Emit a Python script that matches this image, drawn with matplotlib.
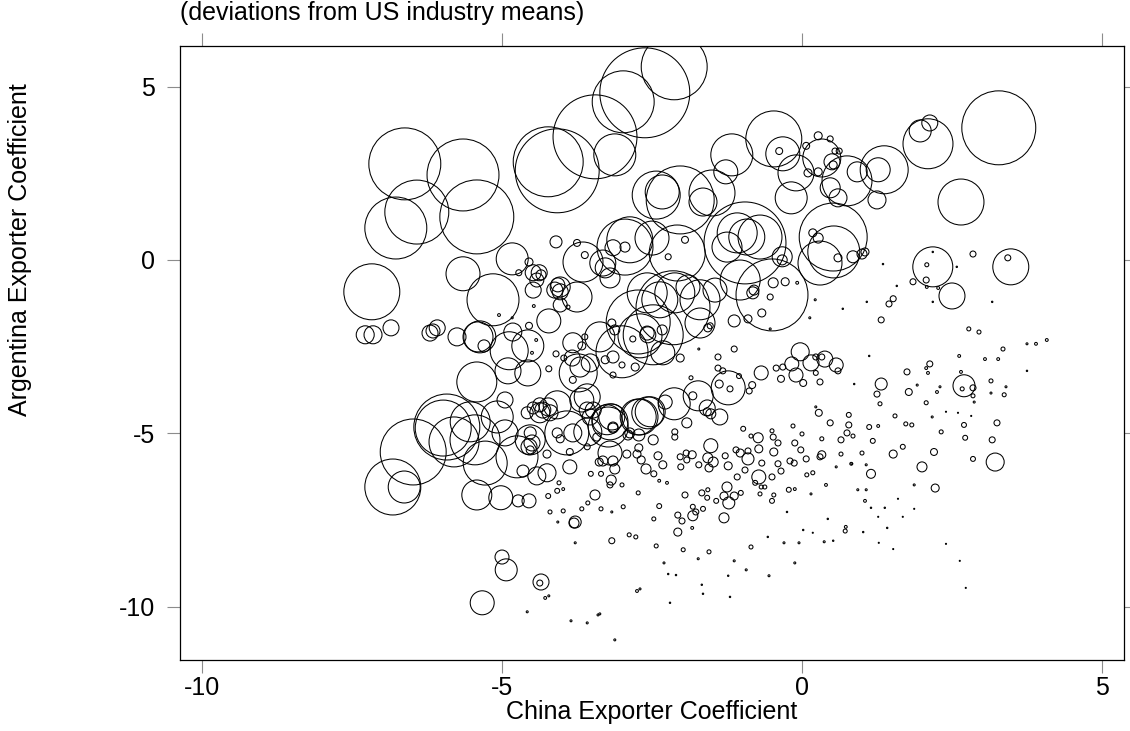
import numpy as np
import matplotlib
matplotlib.use('Agg')
import matplotlib.pyplot as plt

plt.rcParams['font.family'] = ['Liberation Sans', 'DejaVu Sans']
plt.rcParams['axes.unicode_minus'] = False

# x = China exporter coefficient, y = Argentina exporter coefficient, w = industry weight
# big circles, upper left
x1 = [-6.62, -5.65, -6.42, -6.77, -5.42, -4.23, -4.08, -3.45, -3.12, -2.98, -2.62, -2.13]
y1 = [2.77, 2.45, 1.38, 0.92, 1.24, 2.83, 2.57, 3.55, 3.03, 4.56, 4.82, 5.57]
w1 = [1296, 1296, 1024, 961, 1369, 1225, 1764, 1764, 441, 961, 2025, 1089]

# upper middle / right
x2 = [3.28, 2.65, 2.1, 1.97, 2.13, 1.37, 1.27, 0.92, 1.25, 0.75,
      0.6, 0.5, 0.33, 0.27, 0.47, 0.55, 0.62, 0.07, 0.27, 0.1,
      0.52, -0.47, -0.32, -0.38, -0.1, -0.18, -1.17, -1.27, -1.5, -1.65,
      -2.03, -2.43, -2.33]
y2 = [3.81, 1.67, 3.35, 3.72, 3.95, 2.6, 2.6, 2.54, 1.73, 2.28,
      1.79, 2.83, 2.94, 3.58, 3.49, 3.14, 3.14, 3.29, 2.54, 2.51,
      2.74, 3.49, 3.06, 3.14, 2.51, 1.79, 3.03, 2.54, 1.93, 1.67,
      1.73, 1.87, 1.96]
w2 = [1369, 529, 625, 121, 64, 576, 144, 100, 81, 625,
      81, 64, 361, 16, 9, 9, 9, 12, 16, 16,
      16, 784, 289, 12, 324, 256, 441, 144, 529, 196,
      1156, 576, 289]

x3 = [2.18, 2.5, 3.48, 3.43, 2.08, 2.85, 1.85, 2.07, 2.08, 2.27, 2.58, 2.18, 3.17, 2.18, 1.35]
y3 = [-0.2, -1.04, -0.2, 0.06, -0.14, 0.17, -0.63, -0.58, -0.78, -0.81, -0.2, -1.21, -1.21, 0.23, -0.12]
w3 = [400, 169, 324, 9, 4, 9, 9, 9, 2, 2, 0.5, 0.5, 0.5, 0.5, 0.5]

# upper middle cluster
x4 = [0.52, 0.53, 0.3, 0.6, 0.85, 1.0, 1.05, 0.18, 0.27, 0.47,
      -0.95, -0.7, -0.92, -1.08, -0.33, -0.33, -1.25, -2.95, -2.87, -2.5,
      -2.08, -1.95, -2.23, -3.15, -2.95, -0.5, -1.03, -0.48, -0.82, -0.8,
      -0.53, -0.28, -0.08, -1.13, -0.9, -0.67, 0.22, 0.13, -0.53, -1.72,
      0.68, 1.08, 1.58, 1.52, 1.45, 1.32, -3.2]
y4 = [0.66, 0.23, -0.09, 0.06, 0.09, 0.17, 0.23, 0.78, 0.63, 2.08,
      0.49, 0.66, 0.66, 0.78, 0.09, 0.0, 0.37, 0.37, 0.58, 0.63,
      0.2, 0.58, 0.09, 0.35, 0.37, -1.01, -0.58, -0.66, -0.95, -0.87,
      -1.07, -0.63, -0.66, -1.76, -1.7, -1.53, -1.15, -1.67, -1.99, -2.57,
      -1.41, -1.21, -0.75, -1.12, -1.27, -1.73, -0.52]
w4 = [1156, 676, 484, 16, 36, 25, 16, 16, 25, 100,
      1681, 484, 324, 400, 100, 25, 225, 784, 529, 289,
      784, 12, 9, 64, 25, 1296, 400, 25, 36, 25,
      9, 16, 2, 36, 16, 16, 1, 1, 1, 1,
      0.5, 0.5, 0.5, 9, 9, 9, 100]

# dense cluster left of centre
x5 = [-2.73, -2.48, -3.0, -2.57, -2.58, -2.12, -1.9, -2.15, -1.7, -2.32,
      -2.03, -3.15, -3.28, -3.0, -2.78, -3.15, -3.17, -2.82, -2.33, -1.57,
      -1.53, -2.58, -2.7, -3.37, -3.12, -2.37, -1.7, -1.45]
y5 = [-1.79, -2.16, -2.65, -2.16, -2.11, -0.95, -0.78, -1.38, -1.82, -2.68,
      -2.83, -2.8, -2.88, -3.03, -3.09, -3.32, -1.82, -2.28, -2.02, -1.96,
      -1.9, -0.95, -2.19, -2.22, -2.02, -1.15, -1.15, -0.87]
w5 = [1024, 900, 676, 64, 49, 400, 144, 1369, 225, 144,
      16, 36, 16, 9, 16, 9, 16, 9, 25, 16,
      9, 400, 484, 225, 25, 324, 400, 144]

x6 = [-4.83, -4.1, -3.75, -3.62, -3.65, -3.32, -3.28, -4.55, -4.72, -4.48,
      -4.38, -4.35, -4.42, -4.48, -4.12, -4.07, -4.03, -3.75, -4.03, -3.9,
      -4.47, -4.22, -4.55, -4.82, -4.88, -4.57, -4.43, -4.5, -4.57, -4.9,
      -5.42, -3.62, -3.67, -3.83, -3.82, -3.7, -3.73, -3.53, -4.1, -3.97,
      -4.22, -3.82, -5.05, -4.83, -4.03]
y6 = [0.03, 0.52, 0.49, 0.14, -0.06, -0.09, -0.23, -0.06, -0.37, -0.37,
      -0.37, -0.43, -0.58, -0.87, -0.87, -0.72, -0.92, -1.07, -1.3, -1.36,
      -1.33, -1.76, -1.9, -2.08, -2.62, -2.48, -2.31, -2.68, -3.26, -3.2,
      -3.52, -2.22, -2.48, -2.83, -2.39, -3.09, -3.26, -2.97, -2.71, -2.83,
      -3.14, -3.46, -1.59, -1.67, -0.78]
w6 = [256, 36, 12, 12, 400, 169, 100, 16, 9, 64,
      64, 25, 49, 64, 64, 49, 64, 225, 49, 4,
      2, 144, 12, 81, 361, 256, 2, 2, 169, 169,
      400, 9, 16, 64, 100, 100, 361, 81, 9, 9,
      9, 12, 2, 1, 100]

# far left group
x7 = [-7.17, -7.28, -7.15, -6.85, -6.2, -6.08, -6.15, -5.75, -5.65, -5.15, -5.37, -5.4, -5.3, -4.95]
y7 = [-0.92, -2.16, -2.16, -1.96, -2.11, -1.96, -2.05, -2.22, -0.4, -1.15, -2.22, -2.22, -2.48, -4.04]
w7 = [784, 81, 81, 64, 64, 64, 49, 81, 289, 676, 256, 225, 36, 64]

# lower left cluster
x8 = [-6.48, -6.82, -6.63, -5.92, -5.98, -5.8, -5.53, -5.45, -5.28, -5.08,
      -4.95, -4.75, -4.53, -5.42, -5.02, -4.73, -4.55, -4.42, -4.65, -4.55,
      -4.53, -4.25, -3.87, -3.92, -3.82, -4.08, -4.03, -3.42, -3.58, -3.87,
      -4.5, -4.53, -4.58, -4.48, -4.37, -4.32, -4.23, -4.2, -4.37, -4.08,
      -3.67, -3.48, -3.25, -3.15, -3.57, -3.38, -3.15, -3.18, -3.23, -3.2,
      -3.53, -3.2, -2.73, -2.53, -2.9, -3.58, -3.58, -4.25, -3.45, -3.78,
      -3.8]
y8 = [-5.54, -6.55, -6.55, -4.82, -4.85, -5.25, -4.67, -5.19, -5.86, -4.53,
      -4.99, -5.68, -5.19, -6.78, -6.86, -6.95, -6.95, -6.23, -6.09, -5.39,
      -4.99, -5.6, -5.97, -4.99, -4.99, -4.99, -5.16, -5.11, -5.39, -5.54,
      -5.28, -5.48, -4.41, -4.27, -4.18, -4.33, -4.24, -4.41, -4.41, -4.18,
      -4.04, -4.33, -4.61, -4.85, -4.96, -5.83, -5.8, -6.35, -4.82, -5.57,
      -4.53, -4.67, -4.53, -4.38, -5.05, -3.95, -4.33, -6.14, -6.78, -7.56,
      -7.59]
w8 = [1089, 784, 256, 1089, 784, 625, 400, 625, 484, 256,
      169, 441, 225, 225, 144, 36, 49, 81, 36, 64,
      36, 16, 49, 484, 81, 25, 16, 16, 9, 12,
      64, 16, 36, 36, 49, 64, 81, 64, 100, 196,
      144, 64, 225, 25, 196, 16, 25, 25, 400, 144,
      64, 324, 324, 225, 25, 169, 64, 81, 25, 36,
      25]

x9 = [-5.0, -4.93, -5.33, -4.35, -4.37, -4.28, -4.22, -4.58, -3.85, -3.58,
      -3.4, -3.37, -3.12, -2.75, -2.7, -3.78, -3.17, -2.88, -2.77, -2.43,
      -2.47, -4.07, -4.2, -3.98, -4.23, -4.08, -3.98, -4.05, -3.67, -3.57,
      -3.35, -3.17, -2.98, -3.2, -3.0, -2.73, -3.52, -3.35]
y9 = [-8.57, -8.94, -9.89, -9.29, -9.32, -9.75, -9.69, -10.15, -10.41, -10.47,
      -10.24, -10.21, -10.96, -9.55, -9.49, -8.16, -8.1, -7.93, -7.99, -8.25,
      -7.47, -7.56, -7.27, -7.24, -6.81, -6.66, -6.61, -6.43, -7.18, -7.01,
      -7.18, -7.27, -7.12, -6.49, -6.49, -6.72, -6.17, -6.17]
w9 = [49, 121, 144, 64, 9, 2, 1, 1, 1, 1,
      1, 1, 1, 2, 1, 1, 9, 4, 4, 4,
      4, 1, 4, 4, 6, 6, 2, 4, 4, 4,
      4, 1, 4, 9, 4, 4, 6, 6]

# middle band
x10 = [-0.03, -0.17, 0.15, 0.38, 0.57, 0.6, 0.23, 0.33, -0.1, 0.02,
       0.3, 0.23, -0.35, -0.43, -0.32, -0.68, -0.83, -0.88, -1.05, -1.2,
       -1.4, -1.13, -1.23, -1.4, -1.32, -1.38, -1.85, -1.73, -1.82, -1.58,
       -1.52, -1.37, -1.58, -1.92, -2.13, -2.28, -2.57, -2.7, -3.17, -3.15,
       -2.87, -2.12, -2.12, -2.48, -2.6, -2.4, -2.32, -2.47, -2.38, -2.25]
y10 = [-2.65, -3.0, -2.97, -2.86, -3.03, -3.2, -2.8, -2.8, -3.32, -3.55,
       -3.52, -3.26, -3.43, -3.12, -3.09, -3.26, -3.61, -3.78, -3.35, -3.72,
       -2.8, -2.57, -3.69, -3.12, -3.2, -3.58, -3.4, -3.92, -3.92, -4.27,
       -4.44, -4.53, -4.38, -4.7, -4.15, -4.1, -4.41, -4.53, -4.53, -4.82,
       -4.99, -4.96, -5.11, -5.19, -6.03, -5.65, -5.91, -6.17, -6.37, -6.43]
w10 = [81, 49, 64, 64, 49, 9, 9, 9, 49, 12,
       9, 6, 12, 9, 9, 49, 12, 9, 6, 9,
       9, 9, 289, 9, 9, 16, 4, 225, 16, 64,
       25, 64, 16, 25, 256, 49, 256, 324, 169, 25,
       25, 9, 9, 25, 25, 16, 16, 9, 2, 2]

# lower band, small circles
x11 = [-2.72, -2.92, -2.75, -2.72, -2.68, -3.12, -3.32, -2.03, -2.02, -1.93,
       -1.83, -1.92, -1.72, -1.52, -1.57, -1.48, -1.55, -1.28, -1.23, -1.1,
       -1.03, -0.9, -0.9, -0.95, -0.72, -0.67, -0.72, -0.73, -0.98, -0.85,
       -0.5, -0.48, -0.4, -0.47, -0.4, -0.35, -0.5, -0.15, 0.0, -0.12,
       -0.02, 0.07, -0.2, -0.13, 0.33, 0.3, 0.08, 0.18, 0.47, 0.78,
       0.75, 0.85, 0.65, 0.65, 1.0, 1.12, 1.18, 1.27, 1.15, 0.28,
       0.33, 0.82, 0.78, 1.52, 1.68, 1.55, 1.73, 1.83, 2.32, 2.7,
       2.72, 3.25, 3.17, 2.2, 2.85, 3.22, 2.0, 2.22]
y11 = [-5.05, -5.6, -5.6, -5.42, -5.77, -6.03, -5.8, -5.68, -5.97, -5.57,
       -5.62, -5.77, -5.91, -5.36, -5.71, -5.83, -6.0, -5.65, -5.94, -5.48,
       -5.57, -5.51, -5.74, -6.06, -6.26, -5.86, -5.45, -5.13, -4.87, -5.08,
       -4.93, -5.11, -5.28, -5.54, -5.88, -6.09, -6.26, -4.79, -5.02, -5.28,
       -5.48, -5.74, -5.8, -5.86, -5.16, -5.68, -6.2, -6.14, -4.7, -4.76,
       -4.99, -5.08, -5.19, -5.6, -5.57, -4.82, -5.22, -4.79, -6.17, -4.41,
       -5.62, -5.88, -4.47, -5.6, -5.39, -4.5, -4.73, -4.76, -4.96, -4.76,
       -5.13, -4.7, -5.19, -5.54, -5.74, -5.83, -5.97, -6.58]
w11 = [36, 16, 16, 16, 16, 25, 25, 9, 9, 9,
       16, 9, 9, 49, 25, 25, 16, 9, 16, 9,
       16, 9, 36, 9, 49, 9, 16, 25, 6, 4,
       4, 9, 9, 16, 9, 9, 9, 4, 4, 9,
       9, 9, 9, 9, 4, 9, 4, 4, 9, 9,
       9, 4, 9, 4, 4, 6, 6, 2, 20, 12,
       16, 2, 6, 16, 6, 4, 4, 4, 4, 6,
       6, 9, 9, 12, 6, 81, 25, 16]

x12 = [0.72, -0.22, -0.85, -1.3, -1.22, -1.25, -1.3, -1.13, -1.02, -1.82,
       -1.77, -2.07, -2.07, -2.0, -2.38, -1.95, -1.67, -1.58, -1.65, -1.43,
       -1.57, -0.78, -0.7, -0.62, -0.47, -0.5, -1.98, -1.55, -2.3, -1.73,
       -1.13, -0.93, -0.55, -0.3, -0.05, 0.37, 0.52, -0.12, -2.23, -2.1,
       -1.67, -1.65, -1.23, -1.2, -2.2, 0.4, 1.87, -0.12, 1.05, 0.15,
       1.15, 1.38, 1.6, 1.68, 1.27, 1.87, 0.43, 0.02, 0.18, 1.02,
       1.42, 1.28, 1.52, 2.4, 2.63, 2.73, -0.57, -0.25, 0.73, 0.93,
       1.07, 0.83, 0.57, 1.07, -0.68, -1.08, -1.82, -1.83]
y12 = [-7.82, -6.63, -8.28, -7.44, -7.01, -6.55, -6.81, -6.81, -6.72, -7.38,
       -7.27, -7.36, -7.85, -7.53, -7.1, -6.78, -6.72, -6.86, -7.18, -6.95,
       -6.63, -6.43, -6.75, -6.55, -6.78, -6.95, -8.36, -8.42, -8.74, -8.62,
       -8.68, -8.94, -9.11, -8.16, -8.16, -8.13, -8.1, -8.74, -9.06, -9.09,
       -9.37, -9.63, -9.11, -9.72, -9.89, -6.49, -6.49, -6.61, -6.95, -6.75,
       -7.15, -7.15, -6.89, -7.41, -7.41, -7.18, -7.47, -7.79, -7.87, -7.85,
       -7.73, -8.16, -8.34, -8.19, -8.68, -9.46, -7.99, -7.27, -7.7, -6.63,
       -6.63, -5.88, -5.97, -5.91, -6.55, -6.26, -7.12, -7.73]
w12 = [4, 6, 4, 25, 36, 25, 16, 16, 6, 25,
       9, 9, 16, 9, 6, 9, 9, 6, 6, 6,
       4, 6, 4, 4, 4, 6, 4, 4, 1, 1,
       1, 1, 1, 1, 1, 1, 0.5, 1, 0.5, 0.5,
       0.5, 0.5, 0.5, 0.5, 0.5, 2, 1, 2, 2, 1,
       0.5, 0.5, 0.3, 0.3, 0.3, 0.3, 0.5, 0.5, 0.3, 0.5,
       0.5, 0.3, 0.3, 0.3, 0.3, 0.3, 0.5, 0.5, 2, 1,
       1, 1, 1, 1, 4, 9, 6, 2]

# right side, middle
x13 = [2.78, 2.95, 3.35, 3.75, 3.9, 4.08, 3.75, 2.62, 3.05, 3.27,
       2.13, 2.07, 2.1, 1.75, 1.78, 1.92, 2.07, 1.32, 1.25, 1.3,
       2.7, 2.67, 2.85, 2.85, 2.65, 2.87, 2.25, 2.3, 3.15, 3.15,
       3.37, 3.4, 2.4, 2.6, 2.82, 2.17, 0.87, 1.12, 0.23]
y13 = [-1.99, -2.08, -2.57, -2.42, -2.42, -2.31, -3.2, -2.77, -2.86, -2.86,
       -3.0, -3.12, -3.26, -3.23, -3.81, -3.61, -4.12, -3.58, -3.87, -4.15,
       -3.63, -3.72, -3.69, -3.92, -3.23, -4.1, -3.81, -3.66, -3.49, -3.84,
       -3.89, -3.66, -4.38, -4.41, -4.5, -4.53, -3.58, -2.77, -4.24]
w13 = [4, 4, 4, 1, 2, 2, 0.5, 2, 2, 2,
       9, 2, 2, 9, 12, 1, 4, 36, 9, 4,
       121, 4, 9, 4, 2, 1, 2, 1, 4, 1,
       4, 1, 0.3, 0.3, 0.3, 1, 0.5, 0.5, 1]

china = np.array(x1 + x2 + x3 + x4 + x5 + x6 + x7 + x8 + x9 + x10 + x11 + x12 + x13)
argentina = np.array(y1 + y2 + y3 + y4 + y5 + y6 + y7 + y8 + y9 + y10 + y11 + y12 + y13)
weight = np.array(w1 + w2 + w3 + w4 + w5 + w6 + w7 + w8 + w9 + w10 + w11 + w12 + w13)

W, H = 1130, 731
fig = plt.figure(figsize=(W / 100, H / 100), dpi=100)
ax = fig.add_axes([180 / W, 1 - 660 / H, 944 / W, 614 / H])

# weight is proportional to bubble area
ax.scatter(china, argentina, s=weight * 2.07, facecolors='none',
           edgecolors='black', linewidths=0.75)

ax.set_xlim(-10.367, 5.367)
ax.set_ylim(-11.54, 6.17)
ax.set_xticks([-10, -5, 0, 5])
ax.set_yticks([-10, -5, 0, 5])
ax.set_xticklabels(['-10', '-5', '0', '5'])
ax.set_yticklabels(['-10', '-5', '0', '5'])
ax.tick_params(direction='out', length=9.4, width=0.8, color='#8c8c8c',
               labelsize=18, top=True, right=True, pad=2)
ax.tick_params(axis='y', pad=8.5)
for sp in ax.spines.values():
    sp.set_linewidth(0.9)

ax.set_xlabel('China Exporter Coefficient', fontsize=18, labelpad=0)
fig.text(20 / W, 1 - 250 / H, 'Argentina Exporter Coefficient', fontsize=18,
         rotation=90, ha='center', va='center')
fig.text(180 / W, 1 - 1 / H, '(deviations from US industry means)', fontsize=18,
         ha='left', va='top')

fig.savefig('out.png', dpi=100)
